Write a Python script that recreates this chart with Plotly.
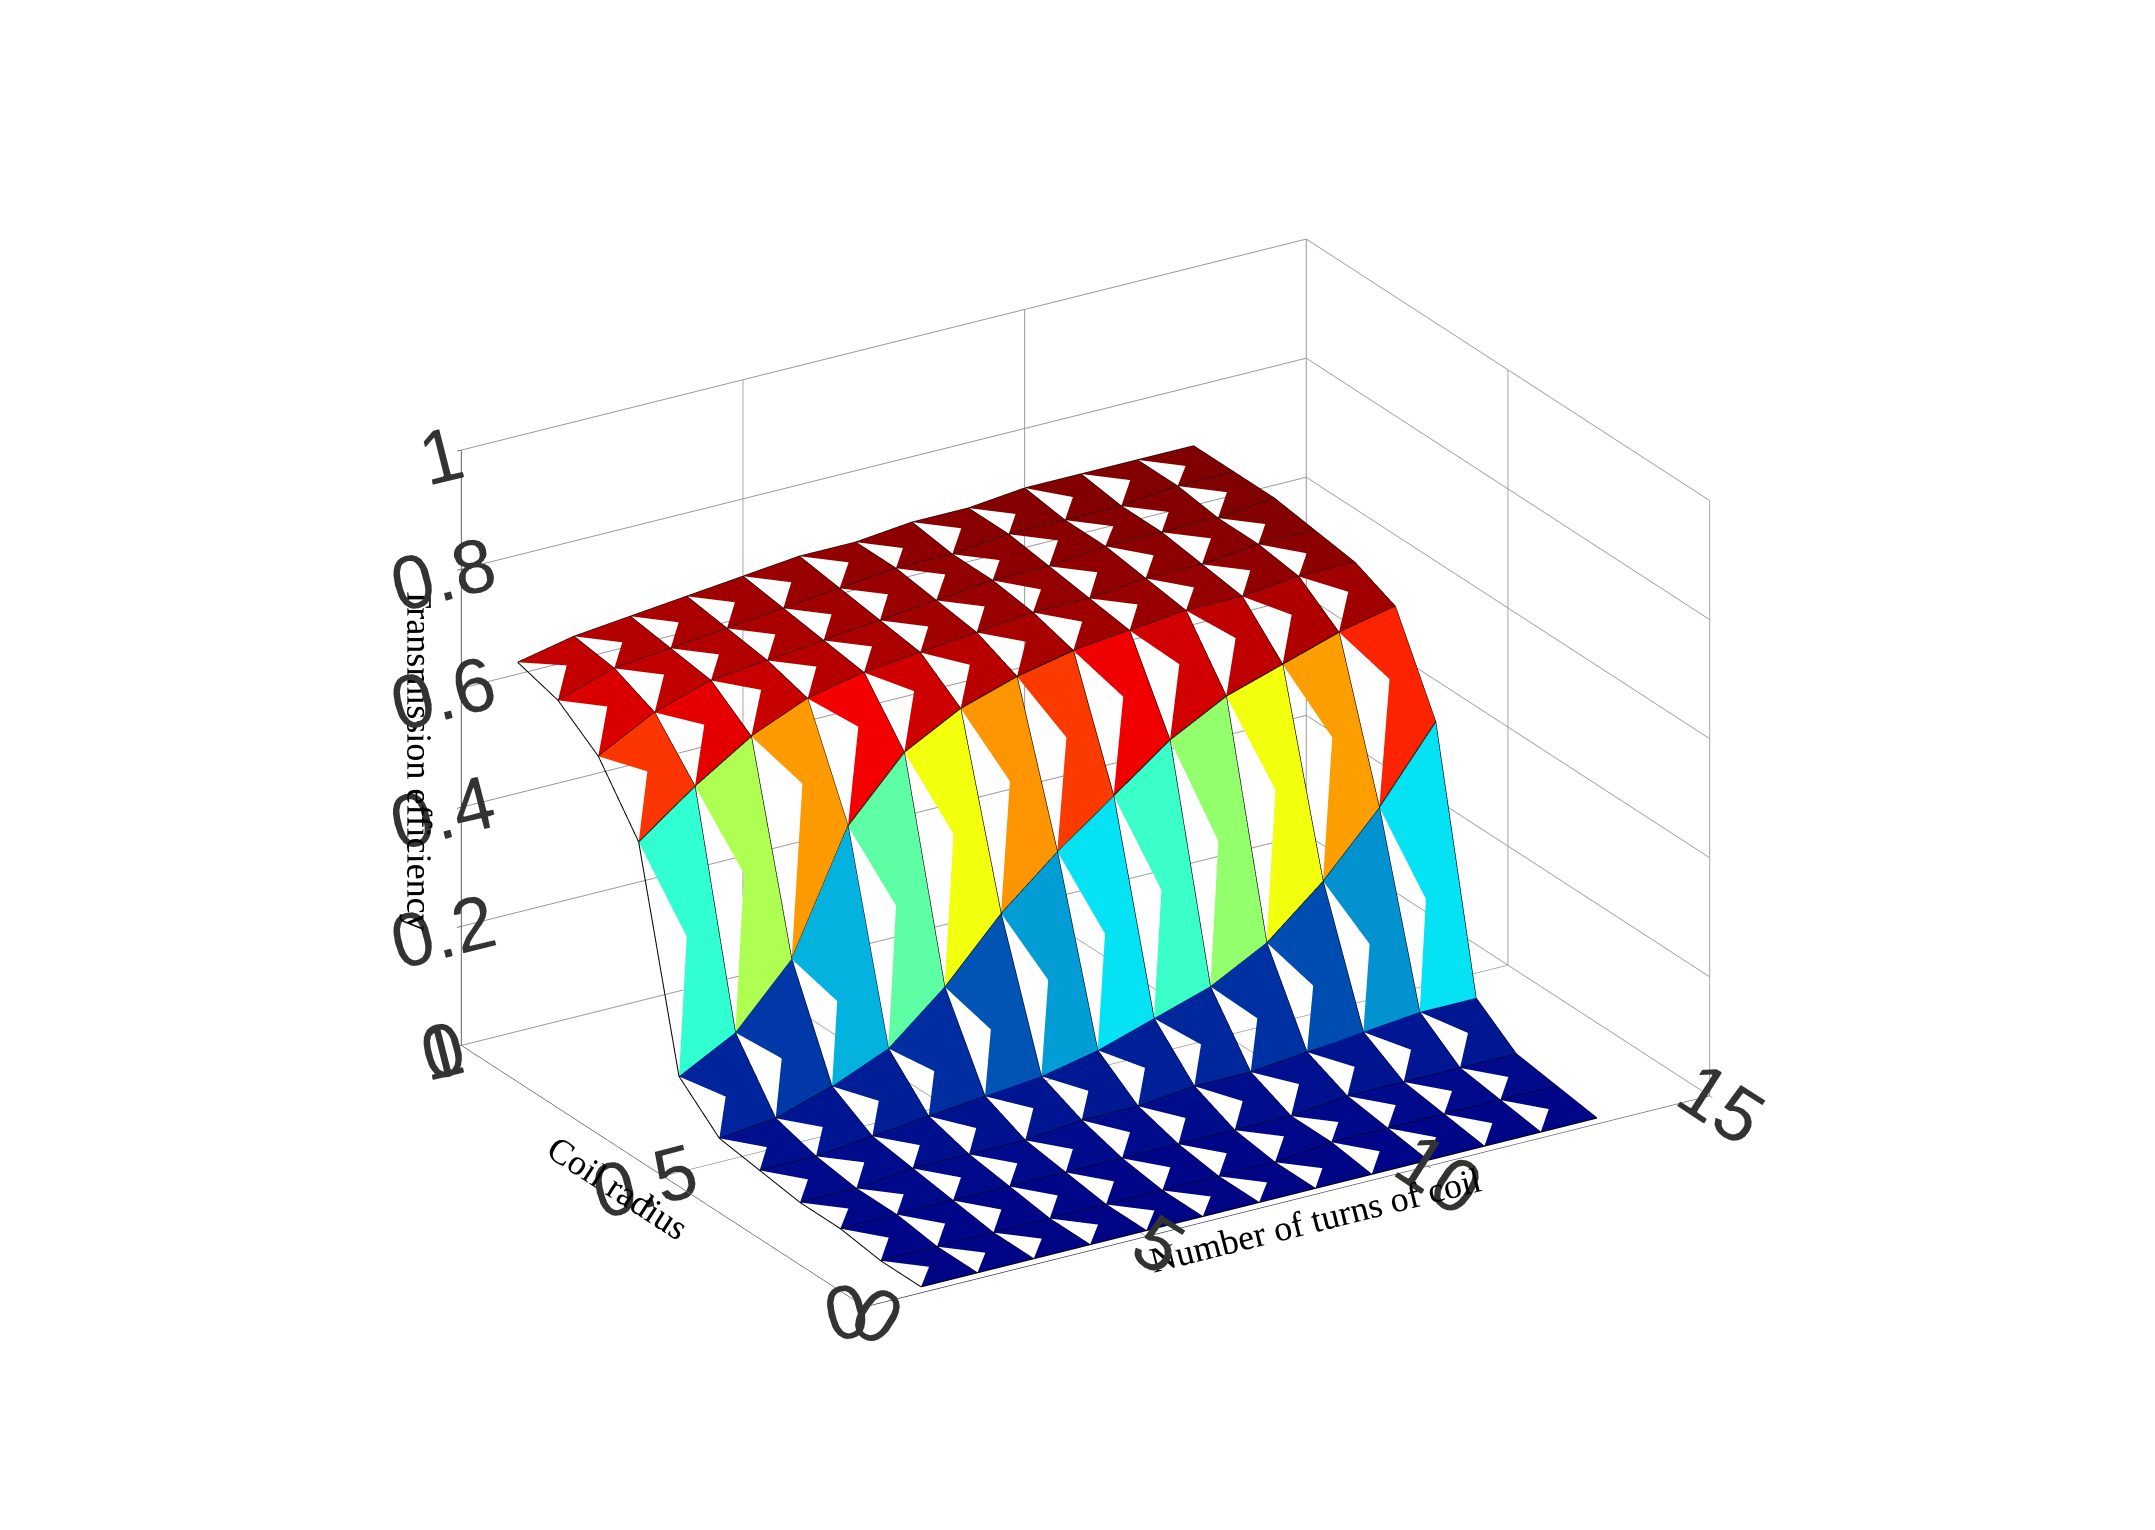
import plotly.graph_objects as go

turns = [1,2,3,4,5,6,7,8,9,10,11,12,13]
radius = [0.0,0.1,0.2,0.3,0.4,0.5,0.6,0.7,0.8,0.9,1.0]
eff = [
 [0.01,0.01,0.01,0.01,0.01,0.01,0.01,0.01,0.01,0.01,0.01,0.01,0.01],
 [0.01,0.01,0.01,0.01,0.01,0.01,0.01,0.01,0.02,0.02,0.02,0.02,0.02],
 [0.02,0.02,0.02,0.02,0.02,0.02,0.02,0.02,0.02,0.03,0.03,0.03,0.03],
 [0.02,0.02,0.03,0.03,0.03,0.04,0.04,0.05,0.05,0.06,0.07,0.08,0.08],
 [0.03,0.03,0.04,0.05,0.06,0.07,0.09,0.12,0.15,0.20,0.28,0.38,0.50],
 [0.04,0.05,0.08,0.12,0.20,0.30,0.38,0.45,0.52,0.57,0.60,0.63,0.65],
 [0.10,0.15,0.25,0.45,0.55,0.60,0.63,0.65,0.66,0.67,0.67,0.68,0.68],
 [0.45,0.52,0.58,0.62,0.64,0.65,0.66,0.67,0.67,0.68,0.68,0.69,0.69],
 [0.55,0.60,0.63,0.64,0.65,0.66,0.67,0.68,0.68,0.69,0.69,0.69,0.70],
 [0.60,0.63,0.64,0.65,0.66,0.67,0.68,0.68,0.69,0.69,0.69,0.70,0.70],
 [0.62,0.64,0.65,0.66,0.67,0.68,0.68,0.69,0.69,0.70,0.70,0.70,0.70],
]

nr, nt = len(radius), len(turns)
vx, vy, vz = [], [], []
for r in range(nr):
    for t in range(nt):
        vx.append(turns[t]); vy.append(radius[r]); vz.append(eff[r][t])
I, J, K, C = [], [], [], []
for r in range(nr - 1):
    for t in range(nt - 1):
        a = r * nt + t; b = a + 1; c = a + nt; d = c + 1
        m = (eff[r][t] + eff[r][t+1] + eff[r+1][t] + eff[r+1][t+1]) / 4
        I += [a, b]; J += [b, d]; K += [d, c]; C += [m, m]

fig = go.Figure(go.Mesh3d(
    x=vx, y=vy, z=vz, i=I, j=J, k=K, intensity=C, intensitymode="cell",
    colorscale="Jet", cmin=0, cmax=0.7, showscale=False, flatshading=True,
    lighting=dict(ambient=1, diffuse=0, specular=0, fresnel=0), hoverinfo="skip"))

lx, ly, lz = [], [], []
for r in range(nr):
    lx += turns + [None]; ly += [radius[r]] * nt + [None]; lz += eff[r] + [None]
for t in range(nt):
    lx += [turns[t]] * nr + [None]; ly += radius + [None]; lz += [eff[r][t] for r in range(nr)] + [None]
fig.add_trace(go.Scatter3d(x=lx, y=ly, z=lz, mode="lines", line=dict(color="black", width=2),
                           hoverinfo="skip", showlegend=False))

tf = dict(family="Liberation Serif", size=36, color="black")
ax = dict(showbackground=False, gridcolor="#999999", linecolor="black", showline=True,
          ticks="outside", tickcolor="black", tickfont=dict(family="Liberation Sans", size=30, color="#333"),
          zeroline=False, showspikes=False)
fig.update_layout(
    width=2155, height=1530, paper_bgcolor="white", margin=dict(l=0, r=0, t=0, b=0),
    scene=dict(
        xaxis=dict(ax, range=[0,15], tickvals=[0,5,10,15], title=dict(text="Number of turns of coil", font=tf)),
        yaxis=dict(ax, range=[0,1], tickvals=[0,0.5,1], title=dict(text="Coil radius", font=tf)),
        zaxis=dict(ax, range=[0,1], tickvals=[0,0.2,0.4,0.6,0.8,1], title=dict(text="Transmission efficiency", font=tf)),
        aspectmode="manual", aspectratio=dict(x=1.3, y=1, z=0.85),
        camera=dict(eye=dict(x=-0.9, y=-1.45, z=0.75), projection=dict(type="orthographic"))))
fig.write_html("out.html")
